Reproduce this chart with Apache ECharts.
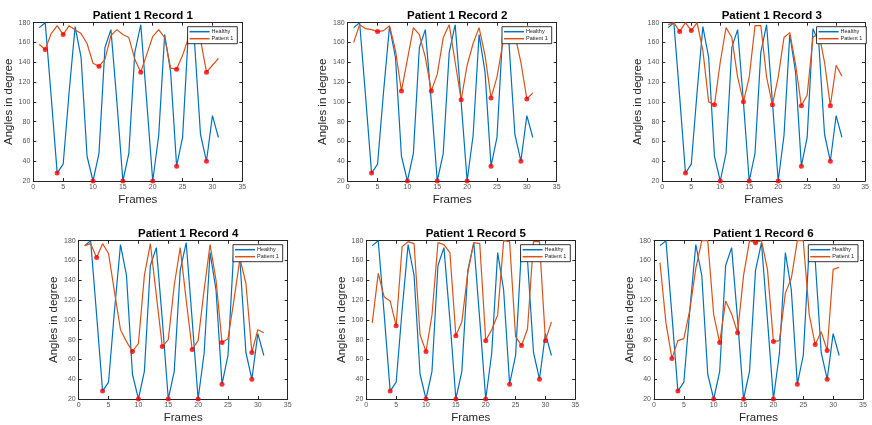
<!DOCTYPE html>
<html>
<head>
<meta charset="utf-8">
<script src="https://cdn.jsdelivr.net/npm/echarts@6/dist/echarts.min.js"></script>
<style>html,body{margin:0;padding:0;background:#fff}#c{width:872px;height:425px}</style>
</head>
<body>
<div id="c"></div>
<script>
var frames = [1,2,3,4,5,6,7,8,9,10,11,12,13,14,15,16,17,18,19,20,21,22,23,24,25,26,27,28,29,30,31];
var healthy = [175,180,105,28,37,110,176,145,45,20,48,155,173,100,20,48,150,178,100,20,66,168,130,35,64,174,160,67,40,86,64];
var healthyMinFrames = [4,10,15,20,24,29];

var titles = ['Patient 1 Record 1','Patient 1 Record 2','Patient 1 Record 3','Patient 1 Record 4','Patient 1 Record 5','Patient 1 Record 6'];

var rec1 = [158,153,169,177,168,177,173,169,159,139,136,143,167,173,168,165,143,130,148,166,173,165,134,133,147,165,170,163,130,137,144];
var rec2 = [160,178,174,173,171,172,177,152,111,143,175,168,145,111,128,165,178,140,102,137,159,175,147,104,125,160,175,168,140,103,109];
var rec3 = [178,180,171,180,172,180,152,100,97,140,175,165,125,100,125,177,177,125,97,125,165,170,138,96,107,165,170,140,96,137,126];
var rec4 = [175,177,163,177,167,128,90,78,68,76,145,177,125,73,80,135,173,120,70,79,130,176,140,77,81,120,162,137,67,90,87];
var rec5 = [97,147,123,119,94,174,179,177,85,68,105,178,176,168,84,98,148,178,177,79,90,105,180,179,83,74,91,179,179,79,98];
var rec6 = [158,97,61,79,81,110,152,180,180,105,77,119,106,87,145,180,178,180,151,78,79,127,142,180,180,105,75,88,69,151,153];
var records = [rec1, rec2, rec3, rec4, rec5, rec6];

var rec1Min = [2,5,11,18,24,29];
var rec2Min = [5,9,14,19,24,30];
var rec3Min = [3,5,9,14,19,24,29];
var rec4Min = [3,9,14,19,24,29];
var rec5Min = [5,10,15,20,26,30];
var rec6Min = [3,11,14,17,20,27,29];
var recMins = [rec1Min, rec2Min, rec3Min, rec4Min, rec5Min, rec6Min];

var xTicks = {min: 0, max: 35, interval: 5};
var yTicks = {min: 20, max: 180, interval: 20};

// layout
var boxes = [
  {l: 33.3, t: 22.7, w: 209, h: 158.3},
  {l: 347.7, t: 22.7, w: 209, h: 158.3},
  {l: 662.3, t: 22.7, w: 209, h: 158.3},
  {l: 78.7, t: 240.7, w: 209, h: 158.3},
  {l: 366.3, t: 240.7, w: 209, h: 158.3},
  {l: 654, t: 240.7, w: 209, h: 158.3}
];

var BLUE = '#0072BD', ORANGE = '#D95319', AX = '#262626';
var grids = [], xAxes = [], yAxes = [], series = [], legends = [], titleOpts = [];

function pts(arr) { return frames.map(function (f, i) { return [f, arr[i]]; }); }
function mins(arr, list) { return list.map(function (f) { return [f, arr[f - 1]]; }); }

boxes.forEach(function (b, k) {
  grids.push({left: b.l, top: b.t, width: b.w, height: b.h, containLabel: false});
  var lineStyle = {color: AX, width: 1};
  xAxes.push({type: 'value', gridIndex: k, position: 'bottom', min: xTicks.min, max: xTicks.max, interval: xTicks.interval,
    axisLine: {show: true, lineStyle: lineStyle}, axisTick: {show: true, inside: true, length: 3, lineStyle: lineStyle},
    axisLabel: {color: '#555', fontSize: 7, margin: 3, fontFamily: 'Liberation Sans'}, splitLine: {show: false},
    name: 'Frames', nameLocation: 'middle', nameGap: 13, nameTextStyle: {color: AX, fontSize: 11.5, fontFamily: 'Liberation Sans'}});
  xAxes.push({type: 'value', gridIndex: k, position: 'top', min: xTicks.min, max: xTicks.max, interval: xTicks.interval,
    axisLine: {show: true, onZero: false, lineStyle: lineStyle}, axisTick: {show: true, inside: true, length: 3, lineStyle: lineStyle},
    axisLabel: {show: false}, splitLine: {show: false}});
  yAxes.push({type: 'value', gridIndex: k, position: 'left', min: yTicks.min, max: yTicks.max, interval: yTicks.interval,
    axisLine: {show: true, onZero: false, lineStyle: lineStyle}, axisTick: {show: true, inside: true, length: 3, lineStyle: lineStyle},
    axisLabel: {color: '#555', fontSize: 7, margin: 3, fontFamily: 'Liberation Sans'}, splitLine: {show: false},
    name: 'Angles in degree', nameLocation: 'middle', nameGap: 13, nameTextStyle: {color: AX, fontSize: 11.5, fontFamily: 'Liberation Sans'}});
  yAxes.push({type: 'value', gridIndex: k, position: 'right', min: yTicks.min, max: yTicks.max, interval: yTicks.interval,
    axisLine: {show: true, onZero: false, lineStyle: lineStyle}, axisTick: {show: true, inside: true, length: 3, lineStyle: lineStyle},
    axisLabel: {show: false}, splitLine: {show: false}});

  var xi = 2 * k, yi = 2 * k;
  series.push({type: 'line', name: 'Healthy', xAxisIndex: xi, yAxisIndex: yi, data: pts(healthy), symbol: 'none',
    lineStyle: {color: BLUE, width: 1.2}, itemStyle: {color: BLUE}, clip: true, silent: true, animation: false, z: 2});
  series.push({type: 'line', name: 'Patient 1', xAxisIndex: xi, yAxisIndex: yi, data: pts(records[k]), symbol: 'none',
    lineStyle: {color: ORANGE, width: 1.2}, itemStyle: {color: ORANGE}, clip: true, silent: true, animation: false, z: 3});
  series.push({type: 'scatter', name: 'hmin' + k, xAxisIndex: xi, yAxisIndex: yi, data: mins(healthy, healthyMinFrames),
    symbol: 'circle', symbolSize: 5, itemStyle: {color: '#FF0000'}, clip: false, silent: true, animation: false, z: 4});
  series.push({type: 'scatter', name: 'pmin' + k, xAxisIndex: xi, yAxisIndex: yi, data: mins(records[k], recMins[k]),
    symbol: 'circle', symbolSize: 5, itemStyle: {color: '#FF0000'}, clip: false, silent: true, animation: false, z: 4});

  titleOpts.push({text: titles[k], left: b.l + b.w / 2, top: b.t - 18, textAlign: 'center',
    textStyle: {fontSize: 11.5, fontWeight: 'bold', color: '#000', fontFamily: 'Liberation Sans'}});

  legends.push({data: ['Healthy', 'Patient 1'], orient: 'vertical', right: 872 - (b.l + b.w) + 5, top: b.t + 4,
    itemWidth: 20, itemHeight: 1.5, itemGap: 1, icon: 'rect', padding: [2, 4, 2, 2],
    borderColor: '#000', borderWidth: 0.8, backgroundColor: '#fff', selectedMode: false,
    textStyle: {fontSize: 5.5, color: '#222', padding: [0, 0, 0, -3], fontFamily: 'Liberation Sans'}, z: 10});
});

var chart = echarts.init(document.getElementById('c'), null, {renderer: 'canvas'});
chart.setOption({
  animation: false,
  backgroundColor: '#fff',
  title: titleOpts,
  grid: grids,
  xAxis: xAxes,
  yAxis: yAxes,
  legend: legends,
  series: series
});
</script>
</body>
</html>
